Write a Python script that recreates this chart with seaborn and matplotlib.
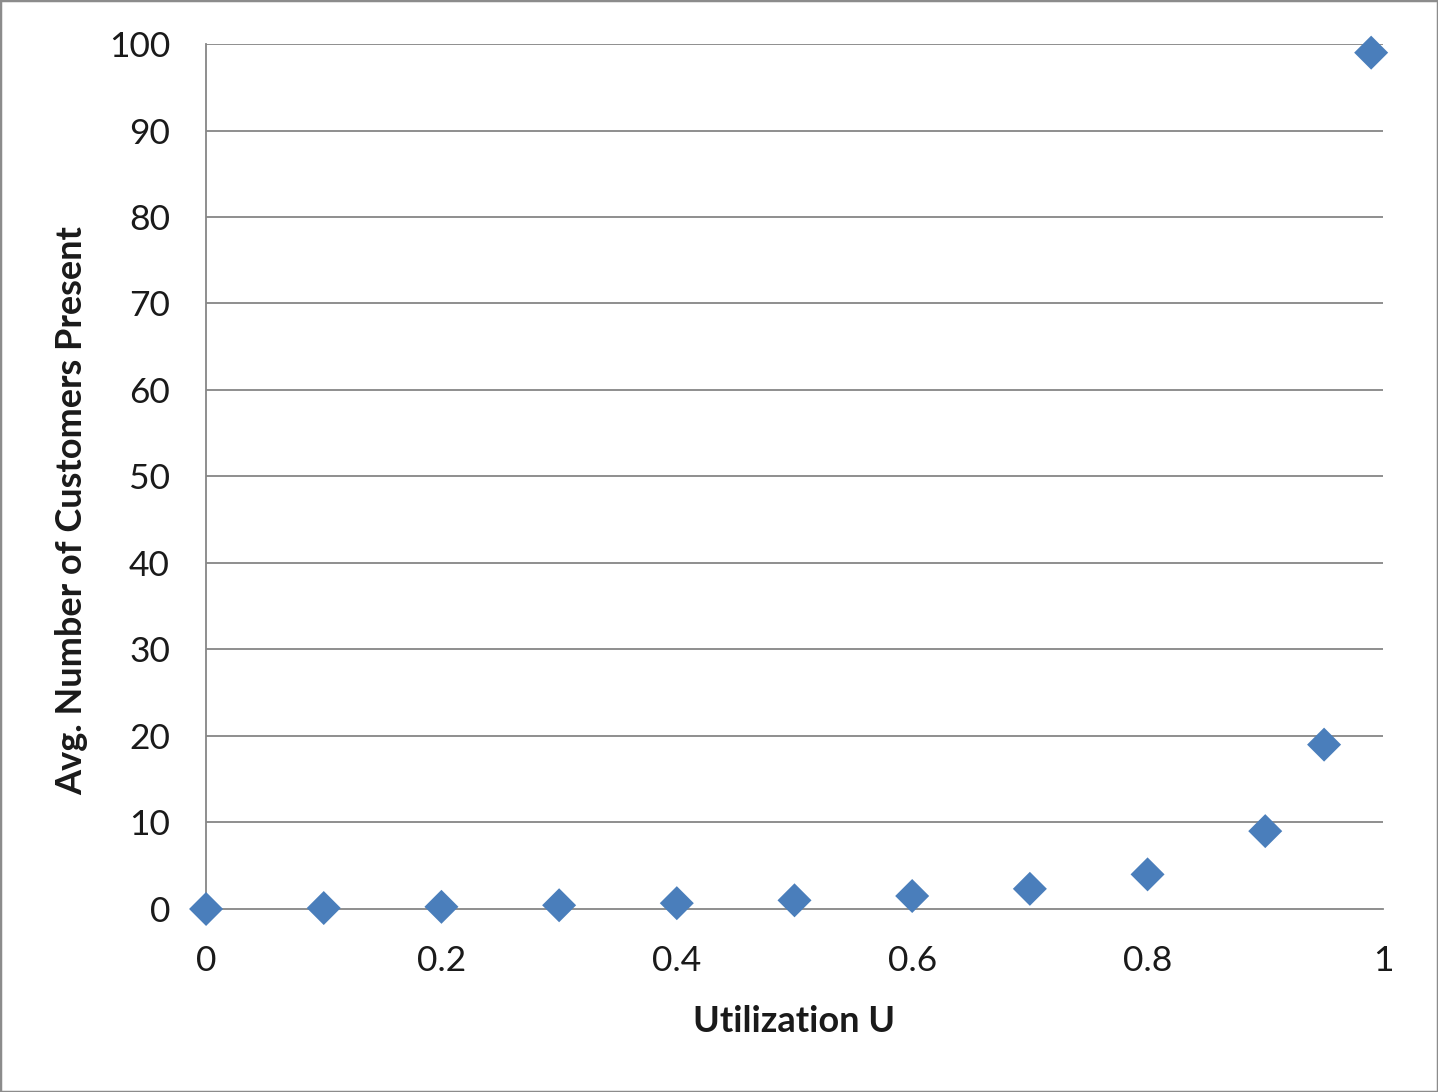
import matplotlib
matplotlib.use("Agg")
import matplotlib.pyplot as plt
import seaborn as sns
import pandas as pd
from matplotlib.patches import Rectangle

utilization = [0, 0.1, 0.2, 0.3, 0.4, 0.5, 0.6, 0.7, 0.8, 0.9, 0.95, 0.99]
avg_customers = [0, 0.11, 0.25, 0.43, 0.67, 1.0, 1.5, 2.33, 4.0, 9.0, 19.0, 99.0]
x_ticks = [0, 0.2, 0.4, 0.6, 0.8, 1]
x_tick_labels = ["0", "0.2", "0.4", "0.6", "0.8", "1"]
y_ticks = [0, 10, 20, 30, 40, 50, 60, 70, 80, 90, 100]

sns.set_style("white")
plt.rcParams["font.family"] = ["Lato", "DejaVu Sans"]

df = pd.DataFrame({"U": utilization, "L": avg_customers})

fig = plt.figure(figsize=(14.38, 10.92), dpi=100)
ax = fig.add_axes([0.1433, 0.1676, 0.8184, 0.7921])

grid_col = "#868686"
for yv in y_ticks[1:]:
    ax.axhline(yv, color=grid_col, lw=1.3, zorder=0)

sns.scatterplot(data=df, x="U", y="L", marker="D", s=300, color="#4a7ebb",
                edgecolor="none", linewidth=0, ax=ax, zorder=3, clip_on=False)

ax.set_xlim(0, 1)
ax.set_ylim(0, 100)
ax.set_xticks(x_ticks)
ax.set_xticklabels(x_tick_labels)
ax.set_yticks(y_ticks)
ax.tick_params(axis="x", direction="out", length=8, width=1.3, color=grid_col,
               labelsize=25.5, pad=18, labelcolor="#1a1a1a")
ax.tick_params(axis="y", length=0, labelsize=25.5, pad=26, labelcolor="#1a1a1a")

for s in ["top", "right"]:
    ax.spines[s].set_visible(False)
for s in ["left", "bottom"]:
    ax.spines[s].set_color(grid_col)
    ax.spines[s].set_linewidth(1.3)

ax.set_xlabel("Utilization U", fontsize=26, fontweight="bold", labelpad=20, color="#1a1a1a")
ax.set_ylabel("Avg. Number of Customers Present", fontsize=26, fontweight="bold",
              color="#1a1a1a", va="center")
ax.yaxis.set_label_coords(-0.1138, 0.461)

fig.patches.append(Rectangle((0, 0), 1, 1, transform=fig.transFigure, fill=False,
                             edgecolor="#8c8c8c", linewidth=2.5))

fig.savefig("out.png", dpi=100)
